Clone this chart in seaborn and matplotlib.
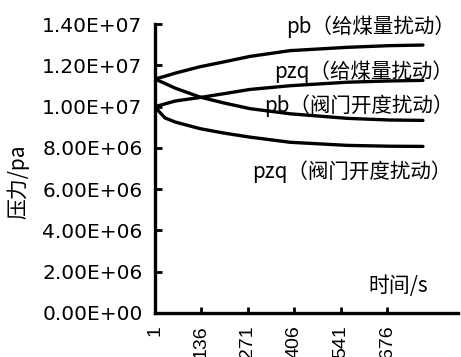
import matplotlib
matplotlib.use("Agg")
import matplotlib.pyplot as plt
import seaborn as sns
import pandas as pd
from matplotlib.ticker import FuncFormatter

# Sample times (s) and pressures (Pa) for each disturbance case
time_s = [1, 15, 30, 60, 132, 200, 277, 394, 560, 680, 780]

pb_coal = [1.133e7, 1.140e7, 1.147e7, 1.162e7, 1.193e7, 1.216e7, 1.243e7,
           1.271e7, 1.287e7, 1.295e7, 1.298e7]
pzq_coal = [1.000e7, 1.006e7, 1.013e7, 1.027e7, 1.044e7, 1.062e7, 1.083e7,
            1.101e7, 1.118e7, 1.124e7, 1.127e7]
pb_valve = [1.133e7, 1.123e7, 1.112e7, 1.089e7, 1.046e7, 1.018e7, 9.90e6,
            9.65e6, 9.43e6, 9.35e6, 9.33e6]
pzq_valve = [1.000e7, 9.72e6, 9.45e6, 9.25e6, 8.93e6, 8.72e6, 8.52e6,
             8.27e6, 8.12e6, 8.08e6, 8.07e6]

series_names = ["pb（给煤量扰动）", "pzq（给煤量扰动）",
                "pb（阀门开度扰动）", "pzq（阀门开度扰动）"]
series_values = [pb_coal, pzq_coal, pb_valve, pzq_valve]

x_ticks = [1, 136, 271, 406, 541, 676]
y_ticks = [0, 2e6, 4e6, 6e6, 8e6, 1.0e7, 1.2e7, 1.4e7]

x_label = "时间/s"
y_label = "压力/pa"

frames = []
for name, vals in zip(series_names, series_values):
    frames.append(pd.DataFrame({"t": time_s, "p": vals, "series": name}))
df = pd.concat(frames, ignore_index=True)

sns.set_style("ticks")
plt.rcParams["font.family"] = ["Noto Sans CJK SC", "DejaVu Sans"]

W, H = 461, 357
fig = plt.figure(figsize=(W / 100, H / 100), dpi=100)
ax = fig.add_axes([155 / W, 1 - 313 / H, (458 - 155) / W, (313 - 24) / H])

sns.lineplot(data=df, x="t", y="p", hue="series", hue_order=series_names,
             palette=["black"] * 4, linewidth=2.4, legend=False, ax=ax,
             sort=False)

ax.set_xlim(1, 882)
ax.set_ylim(0, 1.4e7)
ax.set_xticks(x_ticks)
ax.set_yticks(y_ticks)
ax.yaxis.set_major_formatter(FuncFormatter(lambda v, _: f"{v:.2E}"))
ax.set_xticklabels([str(v) for v in x_ticks], rotation=90)
ax.set_xlabel("")
ax.set_ylabel("")

for lab in ax.get_yticklabels():
    lab.set_family("DejaVu Sans")
    lab.set_fontsize(14.5)
for lab in ax.get_xticklabels():
    lab.set_family("Liberation Sans")
    lab.set_fontsize(14)

ax.tick_params(axis="y", direction="in", length=5, width=2, pad=9, colors="black")
ax.tick_params(axis="x", direction="in", length=4, width=2, pad=9, colors="black")

sns.despine(ax=ax, top=True, right=True)
for side in ("left", "bottom"):
    ax.spines[side].set_linewidth(2.4)
    ax.spines[side].set_color("black")

# Curve labels, placed in figure pixel coordinates
label_pos = [(286, 27), (274, 72), (264, 106), (252, 172)]
for name, (px, py) in zip(series_names, label_pos):
    fig.text(px / W, 1 - py / H, name, ha="left", va="center",
             fontsize=14.8, color="black")

fig.text(368 / W, 1 - 286 / H, x_label, ha="left", va="center",
         fontsize=15, color="black")
fig.text(18 / W, 1 - 182 / H, y_label, ha="center", va="center",
         rotation=90, fontsize=15, color="black")

fig.savefig("out.png", dpi=100)
